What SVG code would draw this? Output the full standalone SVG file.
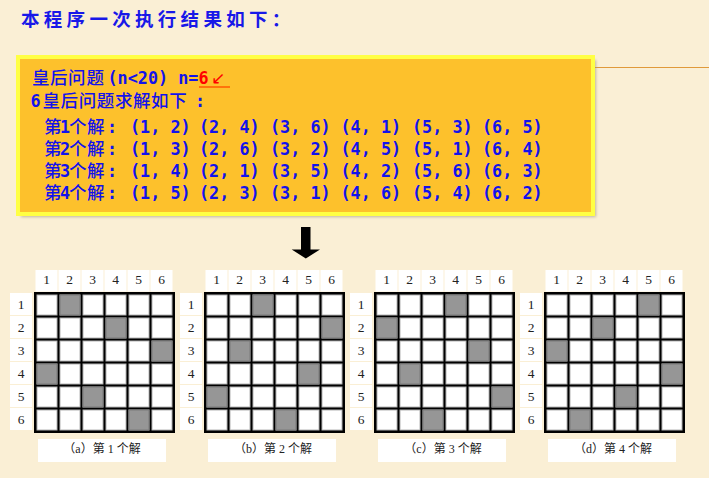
<svg xmlns="http://www.w3.org/2000/svg" xmlns:xlink="http://www.w3.org/1999/xlink" width="709" height="478" viewBox="0 0 709 478">
<style>
.title{font-family:"Noto Sans CJK SC",sans-serif;font-size:18.5px;font-weight:bold;fill:#1818E8}
.m{font-family:"DejaVu Sans Mono","Noto Sans CJK SC",monospace;font-size:16.8px;font-weight:bold;fill:#1212EC}
.c{font-family:"Noto Sans CJK SC",sans-serif;font-size:17.5px;font-weight:500}
.red{fill:#FF0000}
.arr{font-family:"DejaVu Sans",sans-serif;font-size:17px;font-weight:normal}
.num{font-family:"Liberation Serif","Noto Sans CJK SC",serif;font-size:13.5px;fill:#222;text-anchor:middle}
.cap{font-family:"Liberation Serif","Noto Sans CJK SC",serif;font-size:12px;fill:#222;text-anchor:middle}
.hd{fill:#FFFFFF}
.cell{fill:#FFFFFF;stroke:#B4B4B4;stroke-width:1}
.q{fill:#969696;stroke:#7A7A7A;stroke-width:1}
</style>
<defs>
<filter id="sh" x="-5%" y="-5%" width="110%" height="120%"><feGaussianBlur stdDeviation="1.5"/></filter>
<g id="board">
<rect class="hd" x="1.5" y="-22" width="22" height="21.5"/>
<rect class="hd" x="24.5" y="-22" width="22" height="21.5"/>
<rect class="hd" x="47.5" y="-22" width="22" height="21.5"/>
<rect class="hd" x="70.5" y="-22" width="22" height="21.5"/>
<rect class="hd" x="93.5" y="-22" width="22" height="21.5"/>
<rect class="hd" x="116.5" y="-22" width="22" height="21.5"/>
<text class="num" x="12.5" y="-8">1</text>
<text class="num" x="35.5" y="-8">2</text>
<text class="num" x="58.5" y="-8">3</text>
<text class="num" x="81.5" y="-8">4</text>
<text class="num" x="104.5" y="-8">5</text>
<text class="num" x="127.5" y="-8">6</text>
<rect class="hd" x="-24" y="1" width="22" height="22"/>
<rect class="hd" x="-24" y="24" width="22" height="22"/>
<rect class="hd" x="-24" y="47" width="22" height="22"/>
<rect class="hd" x="-24" y="70" width="22" height="22"/>
<rect class="hd" x="-24" y="93" width="22" height="22"/>
<rect class="hd" x="-24" y="116" width="22" height="22"/>
<text class="num" x="-13" y="16.5">1</text>
<text class="num" x="-13" y="39.5">2</text>
<text class="num" x="-13" y="62.5">3</text>
<text class="num" x="-13" y="85.5">4</text>
<text class="num" x="-13" y="108.5">5</text>
<text class="num" x="-13" y="131.5">6</text>
<rect x="0" y="0" width="141" height="141" fill="#000"/>
<g id="row">
<rect class="cell" x="3" y="3" width="20" height="20"/>
<rect class="cell" x="26" y="3" width="20" height="20"/>
<rect class="cell" x="49" y="3" width="20" height="20"/>
<rect class="cell" x="72" y="3" width="20" height="20"/>
<rect class="cell" x="95" y="3" width="20" height="20"/>
<rect class="cell" x="118" y="3" width="20" height="20"/>
</g>
<use xlink:href="#row" y="23"/>
<use xlink:href="#row" y="46"/>
<use xlink:href="#row" y="69"/>
<use xlink:href="#row" y="92"/>
<use xlink:href="#row" y="115"/>
<rect class="hd" x="4" y="147" width="128" height="23"/>
</g>
</defs>
<rect x="0" y="0" width="709" height="478" fill="#FAEFD5"/>
<g id="title">
<text class="title" y="25.5"><tspan x="21 43.8 66.6 89.4 112.2 135 157.8 180.6 203.4 226.2 249 271.8">本程序一次执行结果如下：</tspan></text>
</g>
<line x1="595" y1="67.5" x2="709" y2="67.5" stroke="#E09A3A" stroke-width="1.2"/>
<g id="console">
<rect x="21" y="60" width="575" height="157" fill="#9A9078" opacity="0.6" filter="url(#sh)"/>
<rect x="18" y="57" width="575" height="157" fill="#FDC12C" stroke="#FFFF44" stroke-width="4"/>
<text class="m" y="84"><tspan class="c" x="32 50 68 86.5">皇后问题</tspan><tspan x="107.5">(n&lt;20) n=</tspan><tspan class="red" x="198.5">6</tspan><tspan class="red arr" x="211">↙</tspan></text>
<line x1="199" y1="87" x2="230" y2="87" stroke="#FF5A00" stroke-width="1.5"/>
<text class="m" y="107"><tspan x="30.5">6</tspan><tspan class="c" x="42.5 60.6 78.7 96.8 114.9 133 151.1 169.2">皇后问题求解如下</tspan><tspan x="195">:</tspan></text>
<text class="m" y="132.5"><tspan class="c" x="44">第</tspan><tspan x="60">1</tspan><tspan class="c" x="69 87">个解</tspan><tspan x="107">:</tspan><tspan x="130">(1, 2)</tspan><tspan x="199">(2, 4)</tspan><tspan x="270">(3, 6)</tspan><tspan x="340.5">(4, 1)</tspan><tspan x="412">(5, 3)</tspan><tspan x="482">(6, 5)</tspan></text>
<text class="m" y="155"><tspan class="c" x="44">第</tspan><tspan x="60">2</tspan><tspan class="c" x="69 87">个解</tspan><tspan x="107">:</tspan><tspan x="130">(1, 3)</tspan><tspan x="199">(2, 6)</tspan><tspan x="270">(3, 2)</tspan><tspan x="340.5">(4, 5)</tspan><tspan x="412">(5, 1)</tspan><tspan x="482">(6, 4)</tspan></text>
<text class="m" y="177"><tspan class="c" x="44">第</tspan><tspan x="60">3</tspan><tspan class="c" x="69 87">个解</tspan><tspan x="107">:</tspan><tspan x="130">(1, 4)</tspan><tspan x="199">(2, 1)</tspan><tspan x="270">(3, 5)</tspan><tspan x="340.5">(4, 2)</tspan><tspan x="412">(5, 6)</tspan><tspan x="482">(6, 3)</tspan></text>
<text class="m" y="199"><tspan class="c" x="44">第</tspan><tspan x="60">4</tspan><tspan class="c" x="69 87">个解</tspan><tspan x="107">:</tspan><tspan x="130">(1, 5)</tspan><tspan x="199">(2, 3)</tspan><tspan x="270">(3, 1)</tspan><tspan x="340.5">(4, 6)</tspan><tspan x="412">(5, 4)</tspan><tspan x="482">(6, 2)</tspan></text>
</g>
<g id="connectors">
<polygon points="301,227 310.5,227 310.5,249.5 320,249.5 305.8,258.5 291.7,249.5 301,249.5" fill="#000"/>
</g>
<g id="board-a">
<use xlink:href="#board" x="34" y="292"/>
<rect class="q" x="60" y="295" width="20" height="20"/>
<rect class="q" x="106" y="318" width="20" height="20"/>
<rect class="q" x="152" y="341" width="20" height="20"/>
<rect class="q" x="37" y="364" width="20" height="20"/>
<rect class="q" x="83" y="387" width="20" height="20"/>
<rect class="q" x="129" y="410" width="20" height="20"/>
<text class="cap" x="102" y="453">（a）第 1 个解</text>
</g>
<g id="board-b">
<use xlink:href="#board" x="204" y="292"/>
<rect class="q" x="253" y="295" width="20" height="20"/>
<rect class="q" x="322" y="318" width="20" height="20"/>
<rect class="q" x="230" y="341" width="20" height="20"/>
<rect class="q" x="299" y="364" width="20" height="20"/>
<rect class="q" x="207" y="387" width="20" height="20"/>
<rect class="q" x="276" y="410" width="20" height="20"/>
<text class="cap" x="273" y="453">（b）第 2 个解</text>
</g>
<g id="board-c">
<use xlink:href="#board" x="374" y="292"/>
<rect class="q" x="446" y="295" width="20" height="20"/>
<rect class="q" x="377" y="318" width="20" height="20"/>
<rect class="q" x="469" y="341" width="20" height="20"/>
<rect class="q" x="400" y="364" width="20" height="20"/>
<rect class="q" x="492" y="387" width="20" height="20"/>
<rect class="q" x="423" y="410" width="20" height="20"/>
<text class="cap" x="443" y="453">（c）第 3 个解</text>
</g>
<g id="board-d">
<use xlink:href="#board" x="544" y="292"/>
<rect class="q" x="639" y="295" width="20" height="20"/>
<rect class="q" x="593" y="318" width="20" height="20"/>
<rect class="q" x="547" y="341" width="20" height="20"/>
<rect class="q" x="662" y="364" width="20" height="20"/>
<rect class="q" x="616" y="387" width="20" height="20"/>
<rect class="q" x="570" y="410" width="20" height="20"/>
<text class="cap" x="613" y="453">（d）第 4 个解</text>
</g>
</svg>
